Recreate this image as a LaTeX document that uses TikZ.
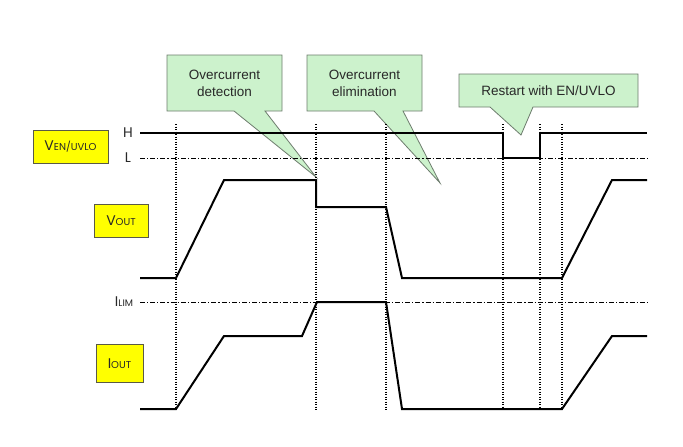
\documentclass[tikz,border=0pt]{standalone}
\usepackage{fontspec}
\setmainfont{Liberation Sans}
\newfontfamily\lblfont{Poppins}
\definecolor{callfill}{RGB}{204,242,204}
\definecolor{calldraw}{RGB}{110,125,110}
\definecolor{lblfill}{RGB}{255,255,0}
\definecolor{lbldraw}{RGB}{90,90,70}
\definecolor{txt}{RGB}{40,40,40}
\begin{document}
\begin{tikzpicture}[x=1pt,y=-1pt,
  wave/.style={line width=2pt,line join=miter},
  vguide/.style={line width=1.1pt,dash pattern=on 1.2pt off 1.3pt},
  hguide/.style={line width=1pt,dash pattern=on 5pt off 2pt on 1.2pt off 2pt},
  callout/.style={fill=callfill,draw=calldraw,line width=0.8pt},
  calltext/.style={font=\fontsize{13.5}{17}\selectfont,align=center,inner sep=0pt,text=txt},
  sig/.style={fill=lblfill,draw=lbldraw,line width=0.9pt,inner sep=0pt,minimum height=33pt,
    font=\lblfont\fontsize{14}{15}\selectfont,text=txt},
  level/.style={font=\lblfont\fontsize{14}{15}\selectfont,inner sep=0pt,text=txt}]
\useasboundingbox (0,0) rectangle (683,447);
\fill[white] (0,0) rectangle (683,447);
% callouts
\draw[callout] (167,55) -- (282,55) -- (282,111) -- (265,111) -- (316,177) -- (234,111) -- (167,111) -- cycle;
\node[calltext] (c1) at (224.5,83) {Overcurrent\\detection};
\draw[callout] (307,55) -- (422,55) -- (422,111) -- (403,111) -- (440,183) -- (374,111) -- (307,111) -- cycle;
\node[calltext] (c2) at (364.5,83) {Overcurrent\\elimination};
\draw[callout] (459,74) -- (638,74) -- (638,107) -- (533,107) -- (521,135) -- (490,107) -- (459,107) -- cycle;
\node[calltext] (c3) at (548.5,90.5) {Restart with EN/UVLO};
% vertical guides
\foreach \x in {176,316,386,503,540,562}
  \draw[vguide] (\x,124) -- (\x,410);
% horizontal guides
\draw[hguide] (140,158) -- (647,158);
\draw[hguide] (140,302) -- (647,302);
% EN/UVLO
\draw[wave] (140,133) -- (503,133) -- (503,158) -- (540,158) -- (540,133) -- (647,133);
% VOUT
\draw[wave] (140,278) -- (176,278) -- (224,180) -- (316,180) -- (316,207) -- (386,207) -- (402,278) -- (562,278) -- (612,180) -- (647,180);
% IOUT
\draw[wave] (140,409) -- (176,409) -- (224,336) -- (302,336) -- (317,302) -- (386,302) -- (402,409) -- (562,409) -- (612,336) -- (647,336);
% labels
\node[sig,minimum width=75pt] (ven) at (70.5,146.5) {V{\fontsize{10}{11}\selectfont EN/UVLO}};
\node[sig,minimum width=54pt] (vout) at (121,220.5) {V{\fontsize{10}{11}\selectfont OUT}};
\node[sig,minimum width=47pt,minimum height=38pt] (iout) at (119.5,363.5) {I{\fontsize{10}{11}\selectfont OUT}};
\node[level] (h) at (128,133) {H};
\node[level] (l) at (128,158) {L};
\node[level] (ilim) at (124,302) {I{\fontsize{9.5}{10}\selectfont LIM}};
\end{tikzpicture}
\end{document}
